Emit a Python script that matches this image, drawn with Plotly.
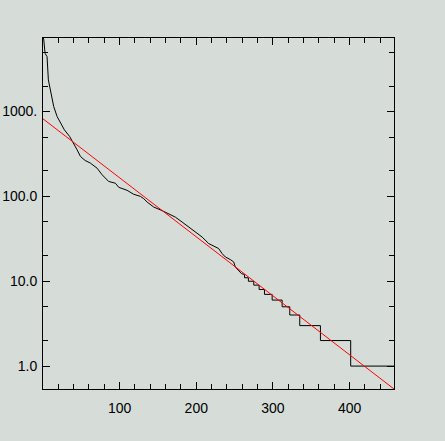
import plotly.graph_objects as go

# Black ranked curve (rank, value) - corners of the staircase
rank = [0, 0.9, 2.7, 5.3, 7.0, 8.7, 11.9, 14.0, 18.4, 22.7, 27.9, 34.8, 40.1, 44.5,
        48.8, 55.0, 61.8, 70.6, 77.1, 85.7, 94.5, 98.8, 109.7, 118.3, 127.1, 131.4,
        135.8, 144.4, 155.4, 164.0, 172.7, 181.5, 190.1, 198.8, 207.6, 216.2, 222.7,
        229.2, 233.7, 238.0, 244.5, 248.8, 251.0, 255.3, 259.0,
        263.0, 263.0, 268.0, 268.0, 275.0, 275.0, 282.0, 282.0, 289.0, 289.0,
        299.0, 299.0, 312.0, 312.0, 322.0, 322.0, 335.0, 335.0, 362.0, 362.0,
        401.5, 401.5, 458.0]
count = [7400, 7160, 4850, 4440, 2360, 1970, 1430, 1145, 873, 728, 609, 508, 424, 354,
         296, 265, 247, 215, 180, 150, 143, 128, 118, 106, 100, 94,
         86, 75, 68, 62.5, 57, 49.9, 43.5, 38, 33.2, 27.8, 25.8,
         24.3, 21.2, 19.3, 18, 16.9, 14.7, 13.5, 12.3,
         12, 11, 11, 10, 10, 9, 9, 8, 8, 7,
         7, 6, 6, 5, 5, 4, 4, 3, 3, 2,
         2, 1, 1]

# Red fitted line (straight in log space)
fit_x = [0, 458]
fit_y = [821, 0.537]

x_ticks = [100, 200, 300, 400]
y_ticks = [1, 10, 100, 1000]
y_ticktext = ["1.0", "10.0", "100.0", "1000."]
y_minor = [2, 5, 20, 50, 200, 500, 2000, 5000]

bg = "#d6dcd8"

fig = go.Figure()
fig.add_trace(go.Scatter(x=rank, y=count, mode="lines",
                         line=dict(color="black", width=1), showlegend=False))
fig.add_trace(go.Scatter(x=fit_x, y=fit_y, mode="lines",
                         line=dict(color="#ff0000", width=1), showlegend=False))

axis_common = dict(showline=True, linecolor="black", linewidth=1, mirror="allticks",
                   ticks="inside", ticklen=7, tickwidth=1, tickcolor="black",
                   showgrid=False, zeroline=False, automargin=False,
                   tickfont=dict(family="Liberation Sans", size=14, color="black"))

fig.update_xaxes(range=[0, 458], tickmode="array", tickvals=x_ticks,
                 ticktext=[str(v) for v in x_ticks], ticklabelstandoff=6,
                 minor=dict(ticks="inside", ticklen=5, tickcolor="black", tickwidth=1,
                            dtick=20, tick0=0, showgrid=False),
                 **axis_common)
fig.update_yaxes(type="log", range=[-0.27, 3.867], tickmode="array", tickvals=y_ticks,
                 ticktext=y_ticktext, ticklabelstandoff=2,
                 minor=dict(ticks="inside", ticklen=5, tickcolor="black", tickwidth=1,
                            tickmode="array", tickvals=y_minor, showgrid=False),
                 **axis_common)

fig.update_layout(width=445, height=441, paper_bgcolor=bg, plot_bgcolor=bg,
                  margin=dict(l=43, r=51, t=38, b=52), showlegend=False)

fig.write_html("out.html", config={"displayModeBar": False},
               post_script="document.body.style.margin='0';"
                           "document.body.style.background='%s';" % bg)
